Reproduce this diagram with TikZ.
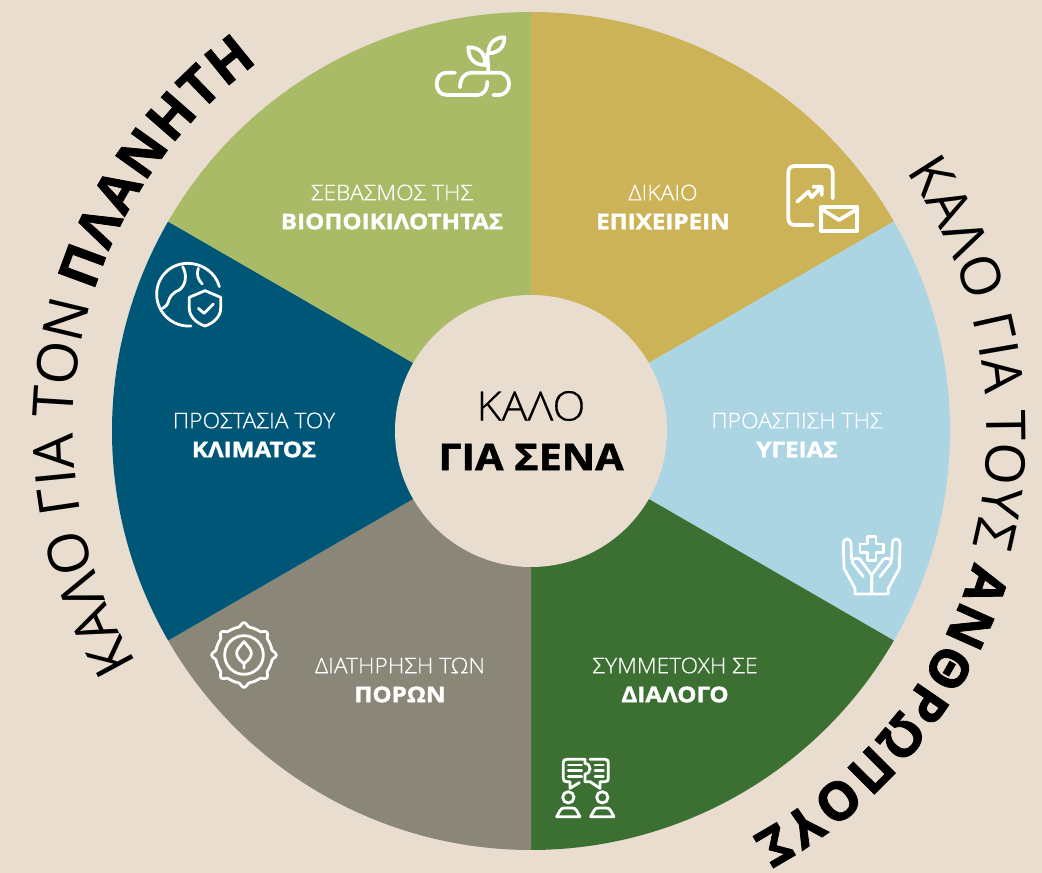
\documentclass[tikz,border=0pt]{standalone}
\usepackage{fontspec}
\usetikzlibrary{decorations.text}
\newfontfamily\plainfont{Open Sans}
\newfontfamily\lightfont[UprightFont={* Light}, UprightFeatures={FakeBold=0.4, FakeStretch=1.06}]{Open Sans}
\newfontfamily\heavyfont[UprightFont={* Bold}, UprightFeatures={FakeBold=1.5, FakeStretch=1.12}]{Open Sans}
\newfontfamily\arcfont[UprightFont={* Bold}, UprightFeatures={FakeBold=1.5}]{Open Sans}
\definecolor{sand}{RGB}{233,221,207}
\definecolor{leaf}{RGB}{169,187,102}
\definecolor{gold}{RGB}{205,179,88}
\definecolor{sky}{RGB}{172,213,227}
\definecolor{forest}{RGB}{60,112,51}
\definecolor{stone}{RGB}{138,134,120}
\definecolor{ocean}{RGB}{0,86,119}

\begin{document}
\begin{tikzpicture}[
    x=0.75pt, y=0.75pt,
    px/.style={shift={(-531,431)}, yscale=-1},
    sector/.style={fill=#1, draw=none},
    label/.style={text=white, align=center, font=\fontsize{16.2}{21.75}\selectfont\lightfont},
    iconline/.style={draw=white, line width=2.8pt, line cap=round, line join=round},
    thinline/.style={draw=white, line width=2.1pt, line cap=round, line join=round},
    curvedtext/.style={decorate, decoration={text along path, text={#1}, text align={fit to path}}}
]
    \fill[sand] (-531,431) rectangle (511,-442);

    \foreach \from/\shade in {30/gold, -30/sky, -90/forest, 210/stone, 150/ocean, 90/leaf}
        \fill[sector=\shade] (0,0) -- (\from:419) arc[start angle=\from, delta angle=60, radius=419] -- cycle;
    \fill[sand] (0,0) circle[radius=136];

    \path[curvedtext={|\fontsize{41}{41}\selectfont\plainfont|ΚΑΛΟ ΓΙΑ ΤΟΥΣ}]
        (34.6:456) arc[start angle=34.6, end angle=-14.5, radius=456];
    \path[curvedtext={|\fontsize{39.5}{40}\selectfont\arcfont|ΑΝΘΡΩΠΟΥΣ}]
        (-16.5:462) arc[start angle=-16.5, end angle=-61.5, radius=462];
    \path[curvedtext={|\fontsize{42}{42}\selectfont\plainfont|ΚΑΛΟ ΓΙΑ ΤΟΝ}]
        (210.5:458) arc[start angle=210.5, end angle=163.8, radius=458];
    \path[curvedtext={|\fontsize{41}{41}\selectfont\arcfont|ΠΛΑΝΗΤΗ}]
        (162.3:459) arc[start angle=162.3, end angle=126.5, radius=459];

    \begin{scope}[px]
        \node[label] (nature) at (392,207) {ΣΕΒΑΣΜΟΣ ΤΗΣ\\{\heavyfont ΒΙΟΠΟΙΚΙΛΟΤΗΤΑΣ}};
        \node[label] (business) at (663,207) {ΔΙΚΑΙΟ\\{\heavyfont ΕΠΙΧΕΙΡΕΙΝ}};
        \node[label] (climate) at (254,435) {ΠΡΟΣΤΑΣΙΑ ΤΟΥ\\{\heavyfont ΚΛΙΜΑΤΟΣ}};
        \node[label] (health) at (797,435) {ΠΡΟΑΣΠΙΣΗ ΤΗΣ\\{\heavyfont ΥΓΕΙΑΣ}};
        \node[label] (resources) at (400,680) {ΔΙΑΤΗΡΗΣΗ ΤΩΝ\\{\heavyfont ΠΟΡΩΝ}};
        \node[label] (dialogue) at (675,680) {ΣΥΜΜΕΤΟΧΗ ΣΕ\\{\heavyfont ΔΙΑΛΟΓΟ}};
        \node[font=\fontsize{30.5}{30}\selectfont\lightfont] (good) at (531,406) {ΚΑΛΟ};
        \node[font=\fontsize{27.6}{30}\selectfont\heavyfont] (you) at (531,457) {ΓΙΑ ΣΕΝΑ};

        \begin{scope}[shift={(400,0)}, scale=1/3]
            \draw[iconline] (165,218) -- (140,218) .. controls (100,218) and (100,285) .. (140,285) -- (230,285) .. controls (255,285) and (262,265) .. (262,245);
            \draw[iconline] (180,262) .. controls (180,235) and (195,218) .. (215,218) -- (295,218) .. controls (338,218) and (338,285) .. (295,285) -- (280,285);
            \draw[iconline] (265,212) -- (262,160);
            \draw[iconline] (205,142) .. controls (240,140) and (258,165) .. (255,195) .. controls (222,195) and (205,175) .. (205,142) -- cycle;
            \draw[iconline] (265,160) .. controls (265,130) and (285,112) .. (313,112) .. controls (315,140) and (295,160) .. (265,160) -- cycle;
        \end{scope}

        \begin{scope}[shift={(760,140)}, scale=1/3]
            \draw[iconline] (158,255) -- (105,255) .. controls (92,255) and (85,248) .. (85,235) -- (85,98) .. controls (85,85) and (92,78) .. (105,78) -- (198,78) .. controls (211,78) and (218,85) .. (218,98) -- (218,175);
            \draw[iconline] (112,185) -- (145,155) -- (155,172) -- (185,140) (160,140) -- (185,140) -- (185,165);
            \draw[iconline] (183,202) rectangle (292,272);
            \draw[iconline] (186,208) -- (237,240) -- (290,208);
        \end{scope}

        \begin{scope}[shift={(130,240)}, scale=1/3]
            \draw[thinline] (183,258) .. controls (128,262) and (80,218) .. (80,163) .. controls (80,110) and (122,70) .. (173,70) .. controls (218,70) and (258,100) .. (268,140);
            \draw[thinline] (158,80) .. controls (172,105) and (168,135) .. (148,150) .. controls (125,160) and (120,170) .. (115,185) .. controls (112,197) and (105,200) .. (98,205);
            \draw[thinline] (205,85) .. controls (198,105) and (205,120) .. (217,132);
            \draw[thinline] (225,152) -- (272,172) -- (272,205) .. controls (272,230) and (250,250) .. (225,258) .. controls (200,250) and (178,230) .. (178,205) -- (178,172) -- cycle;
            \draw[thinline] (205,205) -- (222,220) -- (250,192);
        \end{scope}

        \begin{scope}[shift={(244,655)}, scale=1/3]
            \draw[thinline] plot[domain=0:360, samples=145, smooth] ({(85+12*max(0,cos(8*\x))^2)*cos(\x)},{(85+12*max(0,cos(8*\x))^2)*sin(\x)});
            \draw[thinline] (0,0) circle[radius=58];
            \draw[thinline] (0,-40) .. controls (-12,-25) and (-24,-15) .. (-22,-3) .. controls (-20,10) and (-8,20) .. (0,25) .. controls (8,20) and (20,10) .. (22,-3) .. controls (24,-15) and (12,-25) .. (0,-40) -- cycle (0,25) -- (0,40);
        \end{scope}

        \begin{scope}[shift={(540,740)}, scale=1/3]
            \draw[thinline] (135,58) -- (80,58) .. controls (73,58) and (70,62) .. (70,68) -- (70,115) .. controls (70,122) and (73,125) .. (80,125) -- (90,125) -- (90,145) -- (118,128);
            \draw[thinline] (135,58) -- (135,70) .. controls (155,72) and (155,100) .. (135,102) -- (135,125) -- (150,125) -- (180,145) -- (180,125) -- (195,125) .. controls (202,125) and (205,122) .. (205,115) -- (205,68) .. controls (205,62) and (202,58) .. (195,58) -- (150,58);
            \foreach \rowy in {75,92,110} {
                \draw[thinline] (85,\rowy) -- (125,\rowy);
                \draw[thinline] (165,\rowy) -- (190,\rowy);
            }
            \foreach \headx in {85,187} {
                \draw[thinline] (\headx,172) circle[radius=17];
                \draw[thinline] (\headx-35,230) -- (\headx-25,212) .. controls (\headx-22,206) and (\headx-18,204) .. (\headx-12,204) -- (\headx+12,204) .. controls (\headx+18,204) and (\headx+22,206) .. (\headx+25,212) -- (\headx+35,230) -- cycle;
            }
        \end{scope}

        \begin{scope}[shift={(820,520)}, scale=1/3]
            \draw[thinline] (142,50) -- (168,50) -- (168,72) -- (190,72) -- (190,98) -- (168,98) -- (168,122) -- (142,122) -- (142,98) -- (120,98) -- (120,72) -- (142,72) -- cycle;
            \foreach \side in {1,-1} {
                \draw[thinline] (155,165) -- ({155+\side*35},118) .. controls ({155+\side*42},110) and ({155+\side*65},118) .. ({155+\side*58},128) -- ({155+\side*25},170);
                \draw[thinline] (155,165) -- (155,222) -- ({155+\side*50},222) -- ({155+\side*50},205) -- ({155+\side*83},145) -- ({155+\side*85},72) .. controls ({155+\side*85},52) and ({155+\side*62},52) .. ({155+\side*62},72) -- ({155+\side*60},118);
            }
        \end{scope}
    \end{scope}
\end{tikzpicture}
\end{document}
